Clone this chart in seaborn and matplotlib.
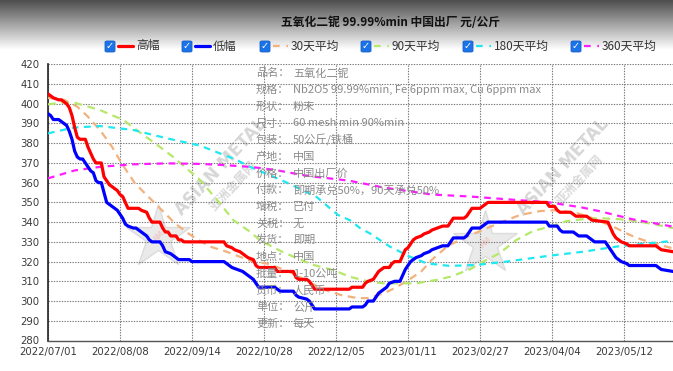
import numpy as np
import matplotlib
matplotlib.use("Agg")
import matplotlib.pyplot as plt
from matplotlib.colors import LinearSegmentedColormap
from matplotlib.patches import FancyBboxPatch
import seaborn as sns

# trading-day index on x, price in 元/公斤 on y
high_x = [0, 1, 2, 4, 5, 6, 7, 8, 9, 10, 11, 12, 14, 15, 16, 17, 18, 20, 21, 22, 23, 24, 26, 27, 28,
          29, 30, 34, 35, 37, 38, 39, 42, 43, 44, 45, 46, 48, 49, 50, 51, 66, 67, 69, 70, 72, 73, 75,
          77, 78, 79, 85, 86, 92, 93, 94, 97, 98, 99, 100, 113, 114, 118, 119, 120, 122, 123, 124,
          126, 128, 129, 130, 132, 133, 134, 135, 136, 137, 138, 140, 141, 143, 144, 146, 148, 150,
          151, 152, 156, 157, 158, 159, 162, 163, 164, 165, 187, 188, 190, 191, 192, 196, 197, 198,
          202, 203, 204, 210, 211, 212, 213, 215, 217, 218, 228, 229, 230, 234.4]
high_y = [405, 404, 403, 402, 402, 401, 400, 398, 394, 388, 383, 382, 382, 378, 375, 372, 370, 370,
          363, 361, 359, 358, 356, 354, 353, 350, 347, 347, 346, 345, 342, 340, 340, 337, 335, 335,
          333, 333, 331, 331, 330, 330, 328, 327, 326, 325, 324, 322, 321, 318, 317, 317, 315, 315,
          312, 311, 311, 310, 308, 306, 306, 307, 307, 309, 310, 311, 313, 315, 317, 317, 319, 320,
          320, 323, 326, 327, 329, 331, 332, 333, 334, 335, 336, 337, 338, 338, 340, 342, 342, 343,
          345, 347, 347, 348, 349, 350, 350, 348, 348, 346, 345, 345, 344, 343, 343, 342, 341, 340,
          337, 334, 332, 330, 329, 328, 328, 327, 326, 325]

low_x = [0, 1, 2, 4, 5, 6, 7, 8, 9, 10, 11, 12, 13, 14, 15, 16, 17, 18, 19, 20, 21, 22, 23, 24, 25,
         26, 27, 28, 29, 30, 32, 33, 34, 36, 37, 38, 39, 42, 43, 44, 46, 47, 48, 49, 53, 54, 66, 67,
         69, 71, 73, 74, 75, 77, 78, 79, 85, 86, 87, 92, 93, 94, 97, 98, 99, 100, 113, 114, 118, 119,
         120, 122, 123, 124, 126, 127, 128, 130, 132, 133, 134, 136, 137, 138, 140, 141, 143, 144,
         146, 148, 150, 151, 152, 156, 157, 158, 159, 162, 163, 164, 165, 187, 188, 191, 192, 193,
         197, 198, 199, 202, 203, 204, 205, 209, 210, 211, 212, 213, 215, 217, 218, 228, 229, 230,
         234.4]
low_y = [395, 394, 392, 392, 391, 390, 389, 386, 382, 376, 373, 372, 372, 370, 368, 366, 365, 361,
         360, 360, 355, 350, 349, 348, 347, 346, 344, 342, 339, 338, 337, 337, 336, 334, 333, 331,
         330, 330, 328, 325, 324, 323, 322, 321, 321, 320, 320, 319, 317, 316, 315, 314, 313, 311,
         309, 307, 307, 306, 305, 305, 303, 302, 301, 300, 298, 296, 296, 297, 297, 298, 300, 300,
         302, 304, 306, 307, 309, 310, 310, 313, 316, 320, 321, 322, 323, 324, 325, 326, 327, 328,
         328, 330, 332, 332, 333, 335, 337, 337, 338, 339, 340, 340, 338, 338, 336, 335, 335, 334,
         333, 333, 332, 331, 330, 330, 328, 326, 324, 322, 320, 319, 318, 318, 317, 316, 315]

avg30_x = [0, 6, 11, 15, 19.5, 24, 27.6, 32.6, 37.6, 42.6, 47.6, 52.6, 56.4, 60.7, 67, 75.7, 82,
           89.5, 96, 103, 110, 116, 120, 126, 130, 135, 140, 144, 150, 157, 163, 169, 177, 184.5,
           191, 198.5, 204.5, 212, 218.2, 223, 229.5, 234.4]
avg30_y = [403, 402, 398.5, 393.4, 386.7, 378.2, 369.8, 359.7, 352.9, 346.2, 339.4, 334.3, 331,
           327.6, 325, 320.5, 319, 315.5, 311, 306, 303, 301.5, 301.5, 304, 306.5, 310.5, 315, 321,
           328, 332.6, 336, 339.4, 343.6, 345.6, 346.1, 344.5, 341.9, 337.7, 333.5, 331, 328.4,
           326.7]

avg90_x = [0, 5, 10, 19.5, 28.2, 35.7, 40.1, 47, 57, 64.5, 69.5, 75.7, 79.5, 88.2, 99, 107, 113.2,
           120.7, 125.7, 132, 138.2, 145.7, 150.8, 158.2, 163.2, 169.3, 175.6, 181.9, 188.2, 194.5,
           200.7, 207, 214, 220.8, 227, 234.4]
avg90_y = [399.7, 400.5, 400.5, 396.8, 391.8, 384.2, 380, 373, 361.4, 349.5, 341, 335.2, 330.8,
           324.7, 318.5, 315.7, 312.3, 309.8, 309, 309, 309, 310.7, 312.3, 316, 320, 324.2, 330.9,
           335.5, 337.7, 340.5, 341.5, 342, 341.5, 340.5, 339, 337]

avg180_x = [0, 9.5, 19.5, 32, 44.5, 57, 70.8, 75, 88, 100.6, 108.8, 113.2, 117, 120.7, 128.2, 135.7,
            142, 150.7, 160.7, 172, 188.2, 200.7, 213.2, 225.7, 234.4]
avg180_y = [385, 387.9, 388.7, 386.7, 382.5, 378.8, 371.5, 368.5, 361, 352.9, 343.6, 341, 337,
            334.3, 327.6, 322.5, 319.1, 317.8, 318.3, 320, 323, 325, 327.6, 329.3, 330.5]

avg360_x = [0, 10, 20, 32, 45, 57, 65, 76, 85, 97, 113, 126, 144, 158, 173, 188, 200, 207, 219,
            234.4]
avg360_y = [362.2, 366.2, 368.1, 369.3, 369.8, 369.5, 369, 368, 366.5, 363.5, 361, 357.5, 354,
            353, 351.5, 350, 347.5, 345.5, 341.5, 337.7]

tick_pos = [0, 27, 54, 81, 108, 135, 162, 189, 216]
tick_labels = ["2022/07/01", "2022/08/08", "2022/09/14", "2022/10/28", "2022/12/05",
               "2023/01/11", "2023/02/27", "2023/04/04", "2023/05/12"]

legend_names = ["高幅", "低幅", "30天平均", "90天平均", "180天平均", "360天平均"]
info_keys = ["品名：", "规格：", "形状：", "尺寸：", "包装：", "产地：", "价格：", "付款：",
             "增税：", "关税：", "发货：", "地点：", "批量：", "货币：", "单位：", "更新："]
info_vals = ["五氧化二铌", "Nb2O5 99.99%min, Fe 6ppm max, Cu 6ppm max", "粉末",
             "60 mesh min 90%min", "50公斤/铁桶", "中国", "中国出厂价",
             "即期承兑50%，90天承兑50%", "已付", "无", "即期", "中国", "1-10公吨", "人民币",
             "公斤", "每天"]

title = "五氧化二铌 99.99%min 中国出厂 元/公斤"

sns.set_style("white")
plt.rcParams['font.family'] = ['Noto Sans CJK SC', 'DejaVu Sans']

W, H = 673, 371
fig = plt.figure(figsize=(W / 100, H / 100), dpi=100)


def fx(px):
    return px / W


def fy(py):
    return 1 - py / H


# grey header gradient
hdr = fig.add_axes([0, fy(50), 1, 50 / H], zorder=0)
grad = np.linspace(0, 1, 60).reshape(-1, 1)
hdr.imshow(grad, aspect="auto", cmap=LinearSegmentedColormap.from_list("g", ["#4e4e4e", "#ffffff"]),
           extent=[0, 1, 0, 1])
hdr.axis("off")

ax = fig.add_axes([fx(48), fy(340.5), 1 - fx(48), (340.5 - 64.3) / H], zorder=2)
ax.patch.set_alpha(0)

ma_styles = [
    (avg30_x, avg30_y, "#f2b27e", (0, (3.5, 2.5))),
    (avg90_x, avg90_y, "#b6e86a", (0, (3.5, 2.5))),
    (avg180_x, avg180_y, "#1ee8f0", (0, (3, 2.5))),
    (avg360_x, avg360_y, "#ff1cff", (0, (3, 2.5))),
]
for xs, ys, col, ls in ma_styles:
    sns.lineplot(x=xs, y=ys, ax=ax, color=col, linewidth=1.6, linestyle=ls, estimator=None,
                 zorder=3)
sns.lineplot(x=low_x, y=low_y, ax=ax, color="#0000ff", linewidth=2.3, estimator=None, zorder=4)
sns.lineplot(x=high_x, y=high_y, ax=ax, color="#ff0000", linewidth=2.3, estimator=None, zorder=5)

ax.set_xlim(0, 234.4)
ax.set_ylim(280, 420)
ax.set_yticks(np.arange(280, 421, 10))
ax.set_xticks(tick_pos)
ax.set_xticklabels(tick_labels)
ax.tick_params(axis="both", labelsize=7.3, labelcolor="#3a3a3a", length=3, width=0.8,
               color="#333333", pad=2)
ax.tick_params(axis="y", pad=3)
for lab in ax.get_xticklabels() + ax.get_yticklabels():
    lab.set_family(['DejaVu Sans'])
ax.grid(True, linestyle=(0, (1.2, 1.2)), color="#777777", linewidth=0.8)
for s in ["top", "right"]:
    ax.spines[s].set_visible(False)
ax.spines["left"].set_color("#222222")
ax.spines["left"].set_linewidth(1.2)
ax.spines["bottom"].set_color("#555555")
ax.spines["bottom"].set_linewidth(1.0)
ax.set_xlabel("")
ax.set_ylabel("")

# watermarks
for (sx, sy), (tx, ty), (cx, cy) in [((158, 237), (221, 167), (234, 186)),
                                     ((485, 243), (563, 167), (580, 180))]:
    fig.add_artist(plt.Line2D([fx(sx)], [fy(sy)], transform=fig.transFigure, marker="*",
                              markersize=48, color="#e4e4e4", markeredgecolor="#d4d4d4",
                              alpha=0.75, zorder=1))
    fig.text(fx(sx), fy(sy), "AM", color="#f0c8c8", fontsize=6, fontweight="bold",
             ha="center", va="center", rotation=47, zorder=1)
    fig.text(fx(tx), fy(ty), "ASIAN METAL", color="#d6d6d6", fontsize=12, fontweight="bold",
             ha="center", va="center", rotation=47, zorder=1, family=['DejaVu Sans'])
    fig.text(fx(cx), fy(cy), "亚洲金属网", color="#dadada", fontsize=9, fontweight="bold",
             ha="center", va="center", rotation=47, zorder=1)

# info block
for i, (k, v) in enumerate(zip(info_keys, info_vals)):
    yy = 73.3 + i * 16.7
    fig.text(fx(256), fy(yy), k, color="#8a8a8a", fontsize=8, va="center", ha="left", zorder=3)
    fig.text(fx(293), fy(yy), v, color="#8a8a8a", fontsize=8, va="center", ha="left", zorder=3)

fig.text(fx(390), fy(22), title, fontsize=8.5, fontweight="bold", ha="center", va="center",
         color="#111111", zorder=6)

# legend with checkboxes
legend_cols = ["#ff0000", "#0000ff", "#f2b27e", "#b6e86a", "#1ee8f0", "#ff1cff"]
legend_box = [110, 187, 265, 366, 468, 576]
for name, col, bx, solid in zip(legend_names, legend_cols, legend_box,
                                [True, True, False, False, False, False]):
    ly = 46
    fig.add_artist(FancyBboxPatch((fx(bx - 5), fy(ly + 6)), 10 / W, 11 / H,
                                  boxstyle="round,pad=0,rounding_size=0.003",
                                  transform=fig.transFigure, facecolor="#1a73e8",
                                  edgecolor="#1a5fc8", linewidth=0.6, zorder=6))
    fig.text(fx(bx), fy(ly + 0.5), "✓", color="white", fontsize=7, fontweight="bold",
             ha="center", va="center", family=['DejaVu Sans'], zorder=7)
    if solid:
        fig.add_artist(plt.Line2D([fx(bx + 8), fx(bx + 23)], [fy(ly), fy(ly)],
                                  transform=fig.transFigure, color=col, linewidth=2.3, zorder=6))
    else:
        fig.add_artist(plt.Line2D([fx(bx + 8), fx(bx + 23)], [fy(ly), fy(ly)],
                                  transform=fig.transFigure, color=col, linewidth=1.6,
                                  linestyle=(0, (3, 3)), zorder=6))
    fig.text(fx(bx + 26), fy(ly), name, fontsize=8.5, color="#333333", ha="left", va="center",
             zorder=6)

fig.savefig("out.png", dpi=100)
